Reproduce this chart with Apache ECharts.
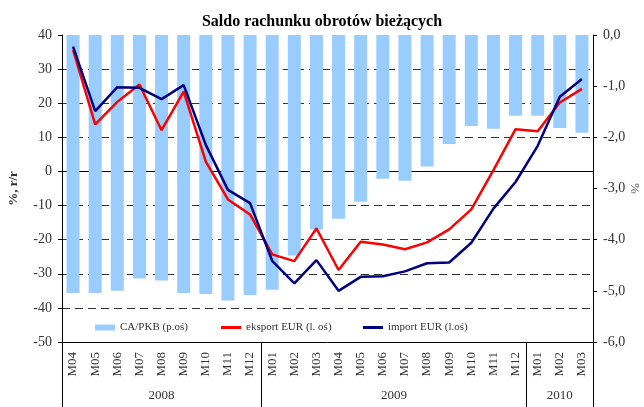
<!DOCTYPE html>
<html>
<head>
<meta charset="utf-8">
<script src="https://cdn.jsdelivr.net/npm/echarts@6/dist/echarts.min.js"></script>
<style>
  html, body { margin: 0; padding: 0; background: #fff; }
  #chart { width: 644px; height: 407px; }
</style>
</head>
<body>
<div id="chart"></div>
<script>
var months = ['M04', 'M05', 'M06', 'M07', 'M08', 'M09', 'M10', 'M11', 'M12',
  'M01', 'M02', 'M03', 'M04', 'M05', 'M06', 'M07', 'M08', 'M09', 'M10', 'M11', 'M12',
  'M01', 'M02', 'M03'];
var years = ['2008', '2009', '2010'];
var yearBounds = [0, 9, 21, 24];   // category index where each year starts / ends

// CA/PKB, % (right axis)
var caPkb = [-5.04, -5.04, -5.0, -4.76, -4.80, -5.04, -5.06, -5.19, -5.08,
  -4.98, -4.31, -3.80, -3.59, -3.26, -2.81, -2.85, -2.57, -2.13, -1.78, -1.83, -1.58,
  -1.58, -1.82, -1.91];
// eksport EUR, % r/r (left axis)
var eksport = [35.6, 13.8, 20.4, 25.5, 12.1, 23.4, 2.9, -8.2, -12.6,
  -24.3, -26.3, -16.7, -28.9, -20.6, -21.4, -22.8, -20.8, -17.0, -11.1, 0.4, 12.4,
  11.8, 20.2, 24.2];
// import EUR, % r/r (left axis)
var importEur = [36.6, 17.7, 24.7, 24.5, 21.2, 25.3, 7.8, -5.4, -9.3,
  -26.2, -32.8, -26.0, -35.0, -30.9, -30.7, -29.3, -26.9, -26.7, -20.9, -10.9, -3.1,
  7.5, 21.9, 27.1];

var serif = '"Liberation Serif", "DejaVu Serif", serif';

// year label positions = middle of each group
var yearMids = [];
for (var i = 0; i < years.length; i++) {
  yearMids.push((yearBounds[i] + yearBounds[i + 1]) / 2);
}

var chart = echarts.init(document.getElementById('chart'));

chart.setOption({
  backgroundColor: '#fff',
  animation: false,
  title: {
    text: 'Saldo rachunku obrotów bieżących',
    left: 'center',
    top: 9,
    textStyle: { fontFamily: serif, fontSize: 16, fontWeight: 'bold', color: '#000' }
  },
  grid: { left: 62, right: 51, top: 35, bottom: 65, outerBoundsMode: 'none', containLabel: false },
  legend: [
    {
      data: ['CA/PKB (p.oś)'], left: 90, top: 317,
      itemWidth: 20, itemHeight: 6, icon: 'rect',
      textStyle: { fontFamily: serif, fontSize: 11, color: '#333' }
    },
    {
      data: ['eksport EUR (l. oś)'], left: 216, top: 317,
      itemWidth: 20, itemHeight: 3, icon: 'rect',
      textStyle: { fontFamily: serif, fontSize: 11, color: '#333' }
    },
    {
      data: ['import EUR (l.oś)'], left: 358, top: 317,
      itemWidth: 20, itemHeight: 3, icon: 'rect',
      textStyle: { fontFamily: serif, fontSize: 11, color: '#333' }
    }
  ],
  xAxis: [
    {
      // zero line with small ticks
      type: 'category',
      data: months,
      position: 'bottom',
      axisLine: { onZero: true, onZeroAxisIndex: 0, lineStyle: { color: '#000', width: 1 } },
      axisTick: { length: 4, lineStyle: { color: '#000' } },
      axisLabel: { show: false },
      splitLine: { show: false }
    },
    {
      // month labels
      type: 'category',
      data: months,
      position: 'bottom',
      axisLine: { onZero: false, lineStyle: { color: '#000', width: 1 } },
      axisTick: { length: 38, lineStyle: { color: '#555' } },
      axisLabel: { rotate: 90, margin: 10, fontFamily: serif, fontSize: 13, color: '#333' },
      splitLine: { show: false }
    },
    {
      // year groups
      type: 'value',
      min: 0,
      max: 24,
      position: 'bottom',
      axisLine: { show: false, onZero: false },
      splitLine: { show: false },
      axisTick: { show: true, customValues: yearBounds, length: 65, lineStyle: { color: '#000' } },
      axisLabel: {
        customValues: yearMids,
        margin: 47,
        fontFamily: serif, fontSize: 13, color: '#333',
        formatter: function (v) {
          var idx = yearMids.indexOf(v);
          return idx >= 0 ? years[idx] : '';
        }
      }
    }
  ],
  yAxis: [
    {
      type: 'value',
      position: 'left',
      min: -50,
      max: 40,
      interval: 10,
      name: '%, r/r',
      nameLocation: 'middle',
      nameGap: 42,
      nameMoveOverlap: false,
      nameTextStyle: { fontFamily: serif, fontSize: 13, fontWeight: 'bold', color: '#333' },
      axisLine: { show: true, lineStyle: { color: '#000' } },
      axisTick: { show: true, length: 4, lineStyle: { color: '#000' } },
      axisLabel: { margin: 10, fontFamily: serif, fontSize: 14, color: '#333' },
      splitLine: {
        show: true, showMinLine: false, showMaxLine: false,
        lineStyle: { color: '#333', type: [8, 5], width: 1 }
      }
    },
    {
      type: 'value',
      position: 'right',
      min: -6,
      max: 0,
      interval: 1,
      name: '%',
      nameLocation: 'middle',
      nameGap: 35,
      nameMoveOverlap: false,
      nameRotate: -90,
      nameTextStyle: { fontFamily: serif, fontSize: 13, color: '#555' },
      axisLine: { show: true, lineStyle: { color: '#000' } },
      axisTick: { show: true, length: 4, lineStyle: { color: '#000' } },
      axisLabel: {
        margin: 10, fontFamily: serif, fontSize: 14, color: '#333',
        formatter: function (v) { return v.toFixed(1).replace('.', ','); }
      },
      splitLine: { show: false }
    }
  ],
  series: [
    {
      name: 'CA/PKB (p.oś)',
      type: 'bar',
      xAxisIndex: 0,
      yAxisIndex: 1,
      barWidth: 13,
      itemStyle: { color: '#99ccff' },
      data: caPkb
    },
    {
      name: 'eksport EUR (l. oś)',
      type: 'line',
      xAxisIndex: 0,
      yAxisIndex: 0,
      symbol: 'none',
      lineStyle: { color: '#ff0000', width: 2.5 },
      itemStyle: { color: '#ff0000' },
      data: eksport
    },
    {
      name: 'import EUR (l.oś)',
      type: 'line',
      xAxisIndex: 0,
      yAxisIndex: 0,
      symbol: 'none',
      lineStyle: { color: '#000080', width: 2.5 },
      itemStyle: { color: '#000080' },
      data: importEur
    }
  ]
});
</script>
</body>
</html>
